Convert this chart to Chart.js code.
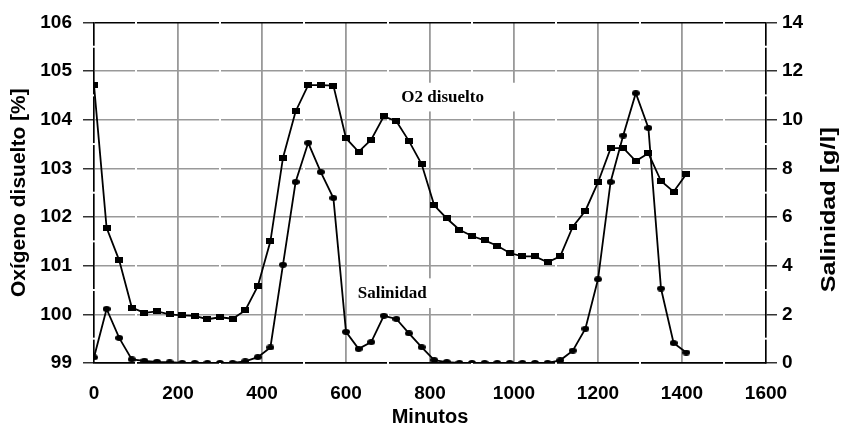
<!DOCTYPE html>
<html>
<head>
<meta charset="utf-8">
<script src="https://cdn.jsdelivr.net/npm/chart.js@4.4.1/dist/chart.umd.min.js"></script>
<style>
html,body{margin:0;padding:0;background:#fff;}
#wrap{width:841px;height:429px;}
</style>
</head>
<body>
<div id="wrap"><canvas id="c" width="841" height="429"></canvas></div>
<script>
// ---- data ----
const minutes = [0,30,60,90,120,150,180,210,240,270,300,330,360,390,420,450,480,510,540,570,600,630,660,690,720,750,780,810,840,870,900,930,960,990,1020,1050,1080,1110,1140,1170,1200,1230,1260,1290,1320,1350,1380,1410];
const o2Disuelto = [104.71,101.78,101.11,100.14,100.03,100.06,100.00,99.98,99.97,99.90,99.94,99.91,100.08,100.58,101.50,103.22,104.17,104.71,104.71,104.70,103.62,103.34,103.59,104.07,103.97,103.56,103.09,102.24,101.97,101.74,101.61,101.52,101.41,101.26,101.19,101.19,101.07,101.19,101.80,102.13,102.71,103.41,103.42,103.15,103.31,102.74,102.52,102.88];
const salinidad = [0.23,2.22,1.03,0.15,0.09,0.05,0.03,0,0,0,0,0,0.07,0.24,0.64,4.04,7.44,9.05,7.85,6.78,1.28,0.58,0.86,1.94,1.81,1.22,0.65,0.12,0.04,0,0,0,0,0,0,0,0,0.11,0.51,1.41,3.44,7.44,9.35,11.09,9.66,3.06,0.82,0.43];
const xTicks = [0,200,400,600,800,1000,1200,1400,1600];
const yLeftTicks = [99,100,101,102,103,104,105,106];
const yRightTicks = [0,2,4,6,8,10,12,14];
const seriesLabels = ['O2 disuelto','Salinidad'];
const axisTitles = {x:'Minutos', yLeft:'Oxígeno disuelto [%]', yRight:'Salinidad [g/l]'};
// in-chart text labels, anchored in data units (x minutes, y left axis)
const inlineLabels = [
  {text:'O2 disuelto', x:830, y:104.45, box:[719,1014,104.76,104.17]},
  {text:'Salinidad',   x:710, y:100.435, box:[614,807,100.74,100.13]}
];

// ---- marker images ----
function rectMarker(w,h){const c=document.createElement('canvas');c.width=w;c.height=h;const g=c.getContext('2d');g.fillStyle='#000';g.fillRect(0,0,w,h);return c;}
function ellMarker(w,h){const c=document.createElement('canvas');c.width=w;c.height=h;const g=c.getContext('2d');g.fillStyle='#000';g.beginPath();g.ellipse(w/2,h/2,w/2,h/2,0,0,Math.PI*2);g.fill();return c;}
const sqMark = rectMarker(8,6);
const elMark = ellMarker(8,6);

const GRAY = '#999999';
const tickFont = {family:'"Liberation Sans", Arial, sans-serif', size:19, weight:'bold'};
const titleFont = {family:'"Liberation Sans", Arial, sans-serif', size:20, weight:'bold'};
const yTitleFont = {family:'"Liberation Sans", Arial, sans-serif', size:21, weight:'bold'};

const decor = {
  id:'decor',
  beforeDatasetsDraw(chart){
    const {ctx, chartArea:a, scales:{x, y}} = chart;
    ctx.save();
    ctx.fillStyle = '#fff';
    // white minor breaks between major gridlines
    for (let v = 100; v < 1600; v += 200) {
      const px = x.getPixelForValue(v);
      ctx.fillRect(px-1, a.top-1, 2, a.bottom-a.top+2);
    }
    for (let v = 99.5; v < 106; v += 1) {
      const py = y.getPixelForValue(v);
      ctx.fillRect(a.left-2, py-1, 4, 2);
      ctx.fillRect(a.right-2, py-1, 4, 2);
    }
    // label boxes + text
    ctx.font = 'bold 17px "Liberation Serif", "Times New Roman", serif';
    ctx.textAlign = 'center';
    ctx.textBaseline = 'middle';
    inlineLabels.forEach(l => {
      const x0 = x.getPixelForValue(l.box[0]), x1 = x.getPixelForValue(l.box[1]);
      const y0 = y.getPixelForValue(l.box[2]), y1 = y.getPixelForValue(l.box[3]);
      ctx.fillStyle = '#fff';
      ctx.fillRect(x0, y0, x1-x0, y1-y0);
      ctx.fillStyle = '#000';
      ctx.fillText(l.text, x.getPixelForValue(l.x), y.getPixelForValue(l.y));
    });
    ctx.restore();
  },
  afterDraw(chart){
    const {ctx, chartArea:a} = chart;
    ctx.save();
    ctx.font = 'bold 21px "Liberation Sans", Arial, sans-serif';
    ctx.fillStyle = '#000';
    ctx.textAlign = 'center';
    ctx.textBaseline = 'middle';
    ctx.translate(829, (a.top+a.bottom)/2 + 17);
    ctx.rotate(-Math.PI/2);
    ctx.scale(1.2, 1);
    ctx.fillText(axisTitles.yRight, 0, 0);
    ctx.restore();
  }
};

new Chart(document.getElementById('c'), {
  type:'line',
  data:{
    datasets:[
      {label:seriesLabels[0], data:minutes.map((m,i)=>({x:m,y:o2Disuelto[i]})), yAxisID:'y',
       borderColor:'#000', borderWidth:1.8, pointStyle:sqMark, pointRadius:4, tension:0, fill:false},
      {label:seriesLabels[1], data:minutes.map((m,i)=>({x:m,y:salinidad[i]})), yAxisID:'y1',
       borderColor:'#000', borderWidth:1.8, pointStyle:elMark, pointRadius:4, tension:0, fill:false}
    ]
  },
  options:{
    responsive:false, animation:false,
    layout:{padding:{top:20,left:0,right:0,bottom:0}},
    plugins:{legend:{display:false}, tooltip:{enabled:false}},
    scales:{
      x:{type:'linear', position:'bottom', min:xTicks[0], max:xTicks[xTicks.length-1],
         afterBuildTicks:(s)=>{s.ticks = xTicks.map(v=>({value:v}));},
         afterFit:(s)=>{s.height = 66;},
         ticks:{font:tickFont, color:'#000', padding:19, maxRotation:0, autoSkip:false,
                callback:(v)=>String(v)},
         grid:{color:GRAY, lineWidth:1.8, drawTicks:false},
         border:{color:'#000', width:1.5},
         title:{display:true, text:axisTitles.x, font:titleFont, color:'#000', padding:{top:0,bottom:0}}},
      y:{type:'linear', position:'left', min:99, max:106,
         afterBuildTicks:(s)=>{s.ticks = yLeftTicks.map(v=>({value:v}));},
         afterFit:(s)=>{s.width = 94;},
         ticks:{font:tickFont, color:'#000', padding:11, callback:(v)=>String(v)},
         grid:{color:(c)=> (c.tick && (c.tick.value===106 || c.tick.value===99)) ? '#000' : GRAY,
               lineWidth:1.5, tickLength:11, tickColor:'#333'},
         border:{color:'#000', width:1.5},
         title:{display:true, text:axisTitles.yLeft, font:yTitleFont, color:'#000', padding:{top:7,bottom:0}}},
      y1:{type:'linear', position:'right', min:0, max:14,
         afterBuildTicks:(s)=>{s.ticks = yRightTicks.map(v=>({value:v}));},
         afterFit:(s)=>{s.width = 75;},
         ticks:{font:tickFont, color:'#000', padding:5, callback:(v)=>String(v)},
         grid:{drawOnChartArea:false, lineWidth:1.5, tickLength:11, tickColor:'#333'},
         border:{color:'#000', width:1.5}}
    }
  },
  plugins:[decor]
});
</script>
</body>
</html>
